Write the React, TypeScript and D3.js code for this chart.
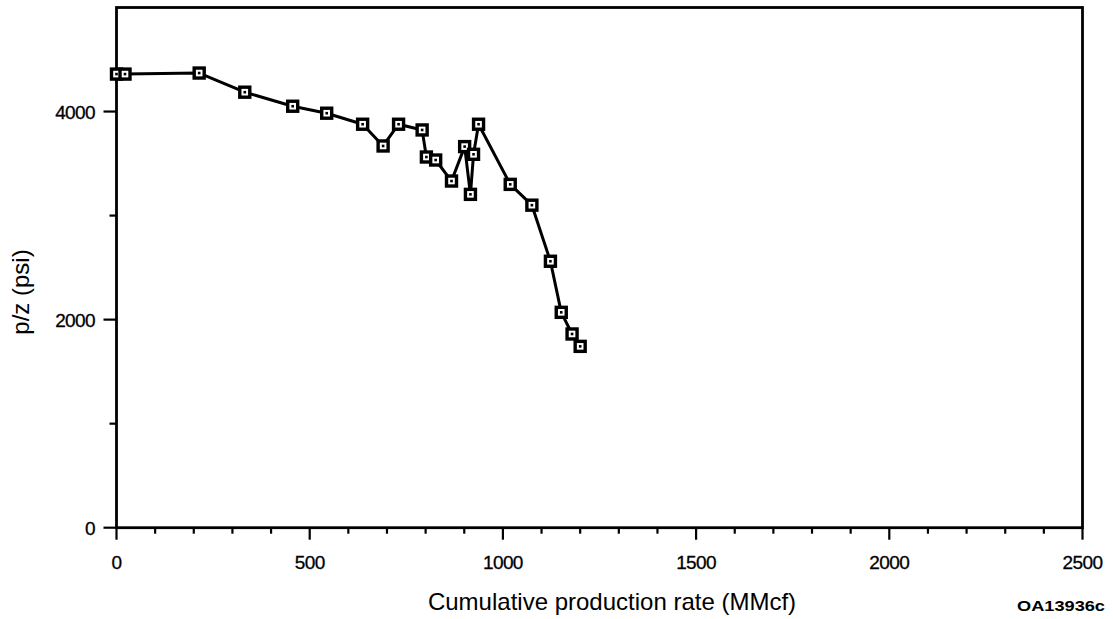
import React from "react";
import * as d3 from "d3";

const cumulativeProduction = [0, 22, 214, 332, 456, 544, 637, 690, 730, 791, 802, 826, 867, 901, 916, 924, 937, 1019, 1075, 1123, 1151, 1179, 1200];
const pzValues = [4360, 4360, 4370, 4186, 4051, 3984, 3878, 3669, 3878, 3823, 3563, 3534, 3332, 3663, 3204, 3589, 3878, 3300, 3100, 2561, 2070, 1862, 1743];
const xTickLabels = [0, 500, 1000, 1500, 2000, 2500];
const yTickLabels = [0, 2000, 4000];
const xMinorTicks = d3.range(0, 2501, 100);
const yMinorTicks = [0, 1000, 2000, 3000, 4000];

const W = 1113;
const H = 619;
const left = 116.5, right = 1082.5, top = 7.5, bottom = 527.7;
const FONT = "'Liberation Sans', Arial, Helvetica, sans-serif";

export default function App() {
  const x = d3.scaleLinear().domain([0, 2500]).range([left, right]);
  const y = d3.scaleLinear().domain([0, 5000]).range([bottom, top]);
  const pts = cumulativeProduction.map((v, i) => [v, pzValues[i]] as [number, number]);
  const line = d3.line<[number, number]>().x(d => x(d[0])).y(d => y(d[1]))(pts) || "";

  return (
    <svg width={W} height={H} style={{ position: "absolute", left: 0, top: 0, display: "block", background: "#fff" }}>
      <rect x={0} y={0} width={W} height={H} fill="#fff" />
      <rect x={left} y={top} width={right - left} height={bottom - top} fill="none" stroke="#000" strokeWidth={2.8} />
      {xMinorTicks.map(t => (
        <line key={"xt" + t} x1={x(t)} x2={x(t)} y1={bottom} y2={bottom + (t % 500 === 0 ? 12 : 6)} stroke="#000" strokeWidth={2.2} />
      ))}
      {yMinorTicks.map(t => (
        <line key={"yt" + t} x1={left} x2={left - (t % 2000 === 0 ? 13 : 7)} y1={y(t)} y2={y(t)} stroke="#000" strokeWidth={2.2} />
      ))}
      {xTickLabels.map(t => (
        <text key={"xl" + t} x={x(t)} y={569} textAnchor="middle" fontFamily={FONT} fontSize={19} letterSpacing={-0.6} stroke="#000" strokeWidth={0.3} fill="#000">{t}</text>
      ))}
      {yTickLabels.map(t => (
        <text key={"yl" + t} x={95} y={y(t) + 7} textAnchor="end" fontFamily={FONT} fontSize={19} letterSpacing={-0.6} stroke="#000" strokeWidth={0.3} fill="#000">{t}</text>
      ))}
      <text x={612} y={610} textAnchor="middle" fontFamily={FONT} fontSize={24} fill="#000">Cumulative production rate (MMcf)</text>
      <text transform={`translate(28.5,292) rotate(-90)`} textAnchor="middle" fontFamily={FONT} fontSize={24} fill="#000">p/z (psi)</text>
      <text x={1017} y={611} fontFamily={FONT} fontSize={15} fontWeight="bold" textLength={88} lengthAdjust="spacingAndGlyphs" fill="#000">OA13936c</text>
      <path d={line} fill="none" stroke="#000" strokeWidth={3} strokeLinejoin="round" />
      {pts.map((d, i) => (
        <g key={"m" + i} transform={`translate(${x(d[0])},${y(d[1])})`}>
          <rect x={-5} y={-5} width={10} height={10} fill="#fff" stroke="#000" strokeWidth={3.4} />
          <rect x={-1.3} y={-1.3} width={2.6} height={2.6} fill="#000" />
        </g>
      ))}
    </svg>
  );
}
